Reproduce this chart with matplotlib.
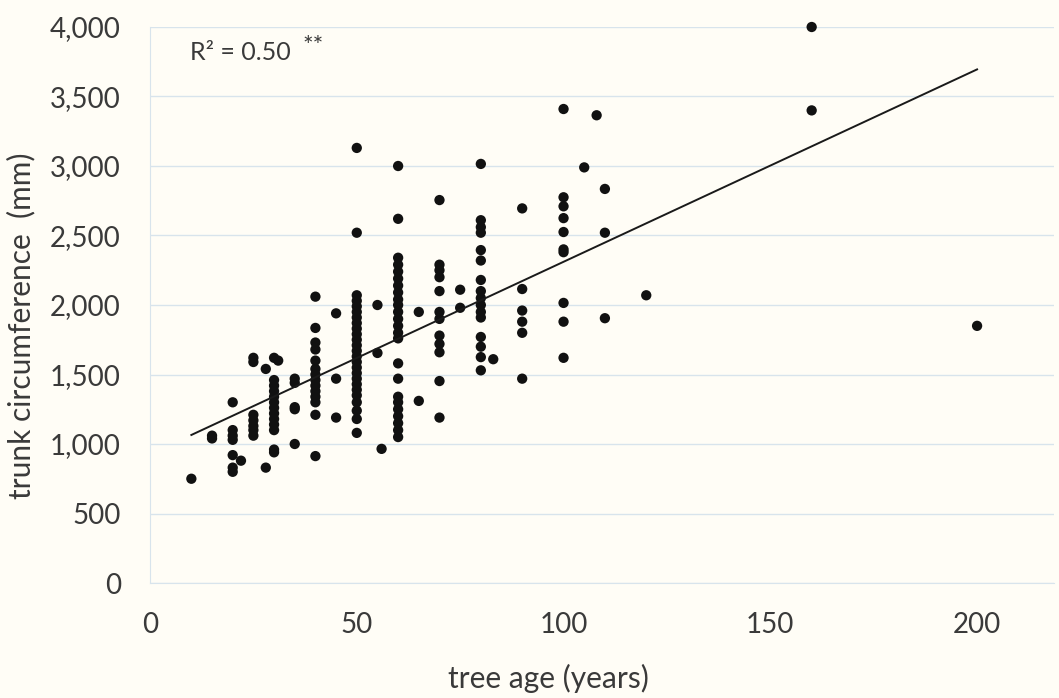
import matplotlib
matplotlib.use("Agg")
import matplotlib.pyplot as plt

plt.rcParams['font.family'] = ['Lato', 'DejaVu Sans']

# tree age (years) -> trunk circumference (mm)
columns = {
    10: [750],
    15: [1060, 1040],
    20: [1300, 1100, 1060, 1030, 920, 830, 800],
    22: [880],
    25: [1620, 1590, 1210, 1170, 1130, 1100, 1060],
    28: [1540, 830],
    30: [1620, 1460, 1420, 1380, 1340, 1300, 1260, 1220, 1180, 1140, 1100, 960, 940],
    31: [1600],
    35: [1470, 1440, 1265, 1250, 1000],
    40: [2060, 1835, 1730, 1680, 1600, 1540, 1500, 1460, 1420, 1380, 1340, 1300, 1210, 913],
    45: [1940, 1470, 1190],
    50: [3130, 2520, 2070, 2030, 1990, 1950, 1910, 1870, 1830, 1790, 1750, 1710, 1670,
         1630, 1590, 1550, 1510, 1470, 1430, 1390, 1350, 1300, 1240, 1180, 1080],
    55: [2000, 1655],
    56: [965],
    60: [3000, 2620, 2340, 2290, 2240, 2190, 2140, 2090, 2040, 2000, 1950, 1900, 1850,
         1800, 1760, 1580, 1470, 1340, 1300, 1250, 1200, 1150, 1100, 1050],
    65: [1950, 1310],
    70: [2755, 2290, 2250, 2200, 2100, 1950, 1900, 1780, 1720, 1660, 1453, 1190],
    75: [2110, 1980],
    80: [3015, 2610, 2560, 2520, 2395, 2320, 2180, 2100, 2050, 2000, 1950, 1910,
         1770, 1700, 1625, 1530],
    83: [1610],
    90: [2695, 2115, 1960, 1880, 1800, 1470],
    100: [3410, 2775, 2710, 2625, 2525, 2400, 2380, 2015, 1880, 1620],
    105: [2990],
    108: [3365],
    110: [2835, 2520, 1905],
    120: [2070],
    160: [4000, 3400],
    200: [1850],
}

# linear trend line as drawn in the chart
trend_x = [10, 200]
trend_y = [1065, 3695]

x_ticks = [0, 50, 100, 150, 200]
y_ticks = [0, 500, 1000, 1500, 2000, 2500, 3000, 3500, 4000]

ages = [a for a, vals in columns.items() for _ in vals]
circ = [v for vals in columns.values() for v in vals]

bg = '#fffdf6'
txt = '#3a3a3a'
fig = plt.figure(figsize=(10.59, 6.98), dpi=100, facecolor=bg)
ax = fig.add_axes([150 / 1059, 115 / 698, 904 / 1059, 556 / 698], facecolor=bg)

ax.scatter(ages, circ, s=55, color='#111111', edgecolors='none', zorder=3, clip_on=False)
ax.plot(trend_x, trend_y, color='#1a1a1a', lw=1.4, zorder=4)

ax.set_xlim(0, 218.6)
ax.set_ylim(0, 4000)
ax.set_xticks(x_ticks)
ax.set_yticks(y_ticks)
ax.set_yticklabels([f'{v:,}' for v in y_ticks])
ax.tick_params(length=0, labelsize=20, colors=txt, pad=21)

ax.grid(axis='y', color='#d8e4ec', lw=1)
ax.set_axisbelow(True)
for side in ['top', 'right']:
    ax.spines[side].set_visible(False)
for side in ['left', 'bottom']:
    ax.spines[side].set_color('#d8e4ec')

ax.set_xlabel('tree age (years)', fontsize=21.5, color=txt)
ax.xaxis.set_label_coords(0.441, -0.145)
ax.set_ylabel('trunk circumference  (mm)', fontsize=21.5, color=txt)
ax.yaxis.set_label_coords(-0.127, 0.462)

ax.text(9.6, 3813, 'R² = 0.50', fontsize=18, color=txt, va='center')
ax.text(36.8, 3860, '**', fontsize=18, color=txt, va='center')

fig.savefig('out.png', dpi=100, facecolor=bg)
